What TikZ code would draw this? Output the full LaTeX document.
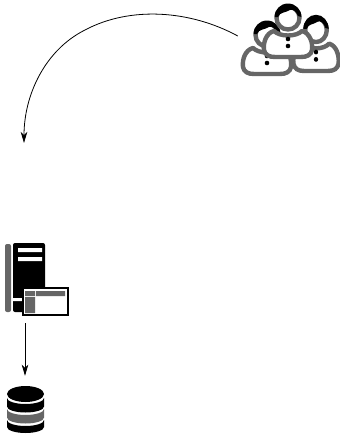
\documentclass[tikz,border=0pt]{standalone}
\usepackage{xcolor}
\usepackage{tikz}
\usetikzlibrary{arrows.meta,positioning,calc}

\definecolor{icongray}{HTML}{666666}
\tikzset{
    outline/.style={draw=icongray, line width=4.4pt, fill=white, line join=round},
    wire/.style={->, line width=0.8pt, >={Stealth[length=11pt, width=6.5pt, inset=3pt]}},
    person/.pic={
        % body
        \draw[outline] (-14,13) .. controls (-22,15) and (-25,25) .. (-24,32)
            .. controls (-23,37) and (-19,39) .. (-13,39) -- (13,39)
            .. controls (19,39) and (23,37) .. (24,32)
            .. controls (25,25) and (22,15) .. (14,13)
            .. controls (8,19) and (-8,19) .. (-14,13) -- cycle;
        % head
        \draw[outline] (0,0) circle (11.5);
        \fill (-13.5,-1) arc (180:360:13.5) -- (10,-2) .. controls (8,-7) and (5,-9) .. (2,-8)
            .. controls (-3,-5) and (-8,-6) .. (-10,-1) -- cycle;
        % buttons
        \fill (0,21) circle (2.3) (0,28) circle (2.3);
    },
}

\begin{document}
\begin{tikzpicture}[x=1pt, y=-1pt]
    \useasboundingbox (0,0) rectangle (340,434);

    % Users
    \node[inner sep=0pt, minimum width=102pt, minimum height=74pt] (users) at (289,36) {};
    \pic at (267,35) {person};
    \pic[xscale=0.94, yscale=1.05] at (316,30) {person};
    \pic at (288,18) {person};

    % Application server
    \node[inner sep=0pt, minimum width=40pt, minimum height=80pt] (server) at (25,283) {};
    \fill[icongray, rounded corners=2pt] (5,244) rectangle (11,312);
    \fill[rounded corners=2pt] (13,243) rectangle (45,312);
    \fill[white] (18,248) rectangle (42,252) (18,257) rectangle (42,261) (13,298) rectangle (22,301);
    \draw[line width=2.8pt, fill=white] (23,288) rectangle (68,315);
    \fill[icongray] (25,291) rectangle (35,296) (36,291) rectangle (65,296) (25,297) rectangle (35,313);

    % Database
    \node[inner sep=0pt, minimum width=37pt, minimum height=58pt] (db) at (25,405) {};
    \fill (25.5,394) ellipse (18.5 and 8);
    \fill (7,398) arc (180:0:18.5 and 6) -- (44,406.5) arc (0:180:18.5 and 6) -- cycle;
    \fill[icongray] (7,409) arc (180:0:18.5 and 6) -- (44,417.5) arc (0:180:18.5 and 6) -- cycle;
    \fill (7,420) arc (180:0:18.5 and 6) -- (44,427) arc (0:180:18.5 and 6) -- cycle;

    % Connectors
    \coordinate (target) at (24,143);
    \draw[wire] (users.west) .. controls (190,10) and (130,6) .. (85,30)
        .. controls (45,50) and (24,95) .. (target);
    \draw[wire] (server) -- (db);
\end{tikzpicture}
\end{document}
